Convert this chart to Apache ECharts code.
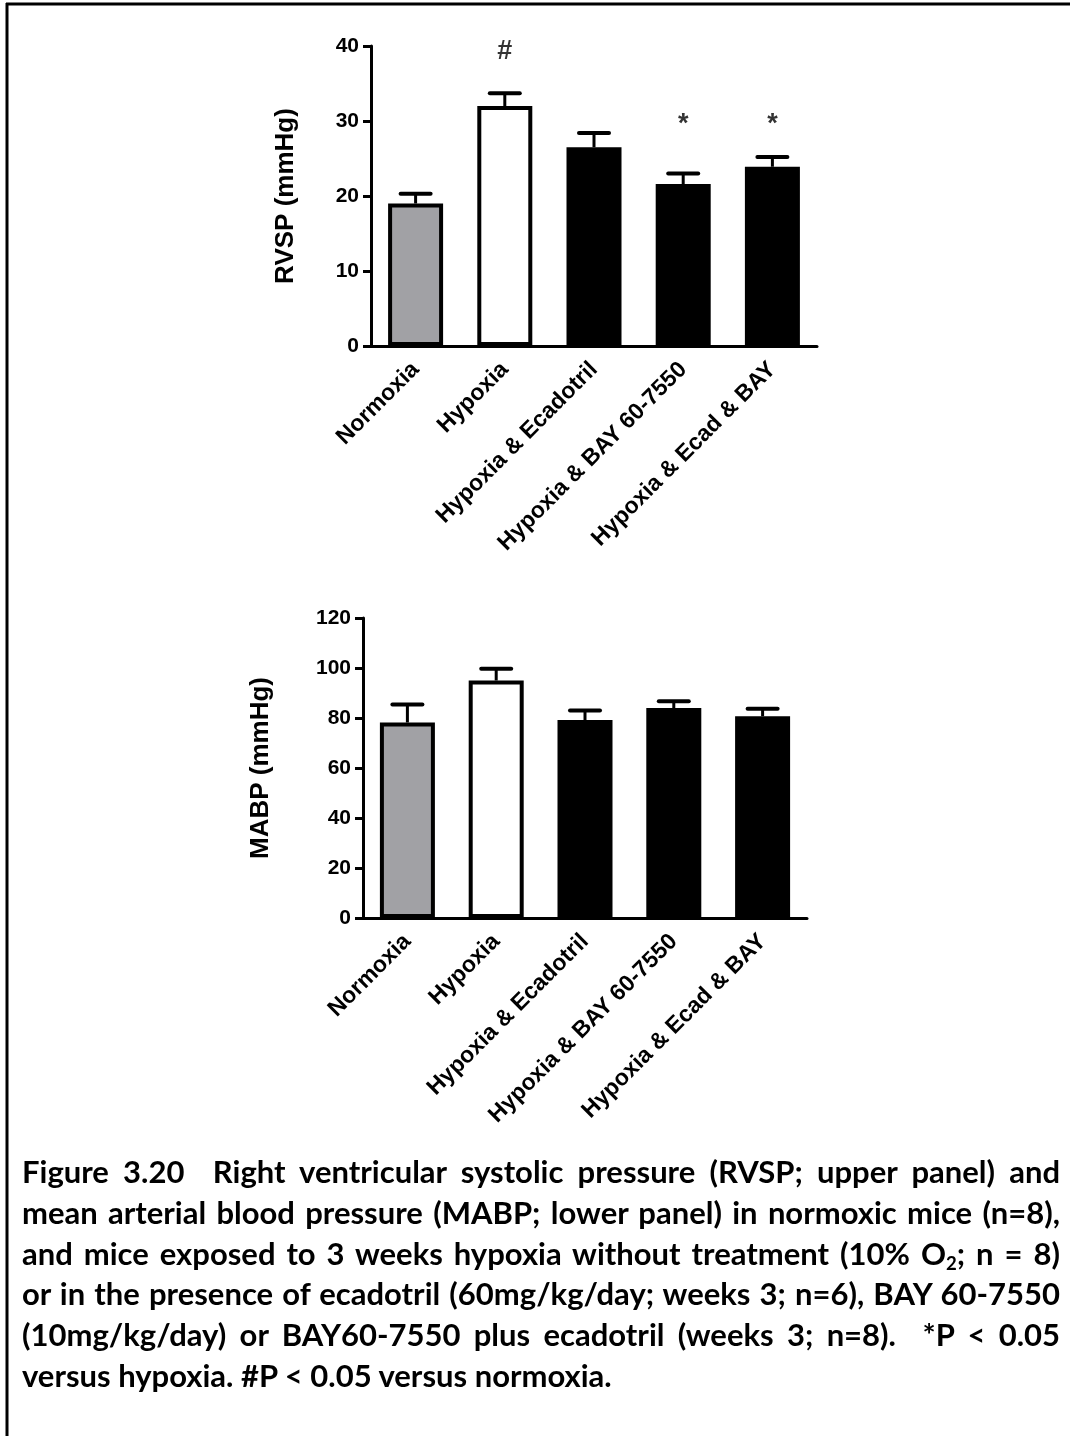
<!DOCTYPE html>
<html>
<head>
<meta charset="utf-8">
<script src="https://cdn.jsdelivr.net/npm/echarts@6/dist/echarts.min.js"></script>
<style>
  html, body { margin: 0; padding: 0; background: #fff; }
  #page { position: relative; width: 1070px; height: 1436px; overflow: hidden; }
  #chart { position: absolute; left: 0; top: 0; width: 1070px; height: 1436px; }
  #caption {
    position: absolute; left: 22px; top: 1151px; width: 1038px;
    font-family: Lato, "Open Sans", "Liberation Sans", sans-serif;
    font-weight: bold; font-size: 31px; line-height: 40.8px; color: #000;
  }
  #caption div { text-align: justify; text-align-last: justify; }
  #caption div.last { text-align-last: left; }
  #caption sub { font-size: 0.6em; line-height: 0; vertical-align: -0.25em; }
</style>
</head>
<body>
<div id="page">
  <div id="chart"></div>
  <div id="caption">
    <div>Figure 3.20&nbsp; Right ventricular systolic pressure (RVSP; upper panel) and</div>
    <div>mean arterial blood pressure (MABP; lower panel) in normoxic mice (n=8),</div>
    <div>and mice exposed to 3 weeks hypoxia without treatment (10% O<sub>2</sub>; n = 8)</div>
    <div>or in the presence of ecadotril (60mg/kg/day; weeks 3; n=6), BAY 60-7550</div>
    <div>(10mg/kg/day) or BAY60-7550 plus ecadotril (weeks 3; n=8).&nbsp; *P &lt; 0.05</div>
    <div class="last">versus hypoxia. #P &lt; 0.05 versus normoxia.</div>
  </div>
</div>
<script>
// Treatment groups (shared by both panels)
const categories = ['Normoxia', 'Hypoxia', 'Hypoxia & Ecadotril', 'Hypoxia & BAY 60-7550', 'Hypoxia & Ecad & BAY'];
const barFills = ['#a1a1a5', '#ffffff', '#000000', '#000000', '#000000'];

// Right ventricular systolic pressure, mean and SEM (mmHg)
const rvspMean = [19.0, 32.0, 26.5, 21.6, 23.9];
const rvspSem = [1.3, 1.7, 1.9, 1.4, 1.3];
// Significance marks above the RVSP bars and the level they sit at
const rvspMarks = ['', '#', '', '*', '*'];
const rvspMarkLevel = [0, 39.3, 0, 29.5, 29.5];

// Mean arterial blood pressure, mean and SEM (mmHg)
const mabpMean = [78.2, 95.0, 79.2, 84.0, 80.7];
const mabpSem = [7.2, 4.7, 3.8, 2.7, 3.0];

// Value axis ranges
const rvspAxis = { min: 0, max: 40, interval: 10 };
const mabpAxis = { min: 0, max: 120, interval: 20 };

const FONT = '"Liberation Sans", Arial, Helvetica, sans-serif';

function xAxisFor(gridIndex) {
  return {
    type: 'category', gridIndex, data: categories,
    axisLine: { lineStyle: { color: '#000', width: 3 } },
    axisTick: { alignWithLabel: true, length: 9, lineStyle: { color: '#000', width: 3 } },
    axisLabel: {
      interval: 0, rotate: 45, margin: 20, color: '#000',
      fontFamily: FONT, fontWeight: 'bold', fontSize: 23
    }
  };
}

function yAxisFor(gridIndex, range, name, gap) {
  return {
    type: 'value', gridIndex, min: range.min, max: range.max, interval: range.interval,
    name, nameLocation: 'middle', nameGap: gap,
    nameTextStyle: { color: '#000', fontFamily: FONT, fontWeight: 'bold', fontSize: 26 },
    axisLine: { show: true, lineStyle: { color: '#000', width: 3 } },
    axisTick: { show: true, length: 8, lineStyle: { color: '#000', width: 3 } },
    splitLine: { show: false },
    axisLabel: { margin: 12, color: '#000', fontFamily: FONT, fontWeight: 'bold', fontSize: 21 }
  };
}

function barSeries(axisIndex, means) {
  return {
    type: 'bar', xAxisIndex: axisIndex, yAxisIndex: axisIndex,
    barWidth: 55, z: 2,
    itemStyle: { borderColor: '#000', borderWidth: 4 },
    data: means.map((v, i) => ({ value: v, itemStyle: { color: barFills[i] } }))
  };
}

// Upper SEM whisker with a rounded cap
function errorSeries(axisIndex, means, sems) {
  return {
    type: 'custom', xAxisIndex: axisIndex, yAxisIndex: axisIndex, z: 3,
    data: means.map((m, i) => [i, m, m + sems[i]]),
    encode: { x: 0, y: [1, 2] },
    renderItem: (params, api) => {
      const i = api.value(0);
      const base = api.coord([i, api.value(1)]);
      const tip = api.coord([i, api.value(2)]);
      return {
        type: 'group',
        children: [
          { type: 'line', shape: { x1: base[0], y1: base[1], x2: tip[0], y2: tip[1] },
            style: { stroke: '#000', lineWidth: 3 } },
          { type: 'line', shape: { x1: tip[0] - 15, y1: tip[1], x2: tip[0] + 15, y2: tip[1] },
            style: { stroke: '#000', lineWidth: 4, lineCap: 'round' } }
        ]
      };
    }
  };
}

const chart = echarts.init(document.getElementById('chart'), null, { renderer: 'canvas' });

chart.setOption({
  backgroundColor: '#fff',
  animation: false,
  textStyle: { fontFamily: FONT },
  grid: [
    { left: 371, top: 46, width: 446, height: 300 },
    { left: 363, top: 618, width: 444, height: 300 }
  ],
  xAxis: [xAxisFor(0), xAxisFor(1)],
  yAxis: [
    yAxisFor(0, rvspAxis, 'RVSP (mmHg)', 72),
    yAxisFor(1, mabpAxis, 'MABP (mmHg)', 89)
  ],
  series: [
    barSeries(0, rvspMean),
    errorSeries(0, rvspMean, rvspSem),
    {
      type: 'scatter', xAxisIndex: 0, yAxisIndex: 0, z: 4,
      symbolSize: 1, itemStyle: { color: 'rgba(0,0,0,0)' },
      data: rvspMarks.map((m, i) => ({ name: m, value: [i, rvspMarkLevel[i]] }))
        .filter(d => d.name !== ''),
      label: {
        show: true, position: 'inside', formatter: '{b}',
        color: '#000', fontFamily: FONT, fontWeight: 'bold', fontSize: 27
      }
    },
    barSeries(1, mabpMean),
    errorSeries(1, mabpMean, mabpSem)
  ],
  graphic: [
    { type: 'line', shape: { x1: 6, y1: 4, x2: 1070, y2: 4 }, style: { stroke: '#000', lineWidth: 3 } },
    { type: 'line', shape: { x1: 7, y1: 3, x2: 7, y2: 1436 }, style: { stroke: '#000', lineWidth: 3 } }
  ]
});
</script>
</body>
</html>
